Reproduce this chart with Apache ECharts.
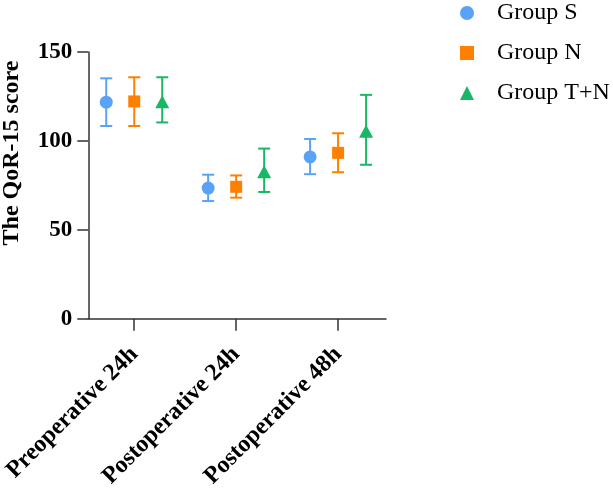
<!DOCTYPE html>
<html><head><meta charset="utf-8">
<script src="https://cdn.jsdelivr.net/npm/echarts@6/dist/echarts.min.js"></script>
<style>html,body{margin:0;padding:0;background:#fff}#c{width:613px;height:491px}</style>
</head><body><div id="c"></div>
<script>
const categories = ['Preoperative 24h', 'Postoperative 24h', 'Postoperative 48h'];
const yTicks = [0, 50, 100, 150];
const groupNames = ['Group S', 'Group N', 'Group T+N'];
const sMean = [121.8, 73.5, 91.0];
const sUpper = [135.2, 81.0, 101.1];
const sLower = [108.4, 66.2, 81.3];
const nMean = [122.2, 74.2, 93.3];
const nUpper = [135.8, 80.6, 104.3];
const nLower = [108.4, 68.1, 82.4];
const tMean = [122.0, 82.6, 105.4];
const tUpper = [135.8, 95.7, 125.9];
const tLower = [110.4, 71.3, 86.6];

const colors = ['#5aa2f6', '#ff8000', '#17b765'];
const symbols = ['circle', 'rect', 'triangle'];
const offsets = [-28, 0, 28];
const groups = [[sMean, sUpper, sLower], [nMean, nUpper, nLower], [tMean, tUpper, tLower]];
const serif = 'Liberation Serif';

const chart = echarts.init(document.getElementById('c'), null, {renderer: 'canvas'});
const series = [];
groups.forEach((g, k) => {
  const off = offsets[k];
  series.push({
    type: 'custom',
    name: groupNames[k] + ' err',
    data: categories.map((c, i) => [i, g[2][i], g[1][i]]),
    z: 2,
    silent: true,
    renderItem: (params, api) => {
      const lo = api.coord([api.value(0), api.value(1)]);
      const hi = api.coord([api.value(0), api.value(2)]);
      const x = lo[0] + off;
      const w = 6;
      const st = {stroke: colors[k], lineWidth: 2, fill: null};
      return {type: 'group', children: [
        {type: 'line', shape: {x1: x, y1: lo[1], x2: x, y2: hi[1]}, style: st},
        {type: 'line', shape: {x1: x - w, y1: lo[1], x2: x + w, y2: lo[1]}, style: st},
        {type: 'line', shape: {x1: x - w, y1: hi[1], x2: x + w, y2: hi[1]}, style: st}
      ]};
    }
  });
});
groups.forEach((g, k) => {
  series.push({
    type: 'scatter',
    name: groupNames[k],
    data: categories.map((c, i) => [i, g[0][i]]),
    symbol: symbols[k],
    symbolSize: k === 2 ? [14, 13] : (k === 1 ? 12 : 13),
    symbolOffset: [offsets[k], 0],
    itemStyle: {color: colors[k], opacity: 1},
    z: 3
  });
});

chart.setOption({
  animation: false,
  backgroundColor: '#fff',
  grid: {left: 88, right: 227, top: 52, bottom: 171, containLabel: false},
  legend: {
    orient: 'vertical', left: 455, top: -4,
    data: groupNames.map((n, k) => ({name: n, icon: symbols[k]})),
    itemWidth: 14, itemHeight: 14, itemGap: 16,
    textStyle: {fontFamily: serif, fontSize: 24, lineHeight: 20, color: '#000', padding: [0, 0, 0, 18]}
  },
  xAxis: {
    type: 'value', min: -0.451, max: 2.47,
    splitLine: {show: false},
    axisLine: {show: true, onZero: false, lineStyle: {color: '#333', width: 1.5}},
    axisTick: {show: true, customValues: [0, 1, 2], length: 12, lineStyle: {color: '#333', width: 1.5}},
    axisLabel: {
      customValues: [0, 1, 2], rotate: 45, margin: 32,
      formatter: v => categories[Math.round(v)] || '',
      fontFamily: serif, fontWeight: 'bold', fontSize: 24, color: '#000'
    }
  },
  yAxis: {
    type: 'value', min: 0, max: 150, interval: 50,
    splitLine: {show: false},
    axisLine: {show: true, onZero: false, lineStyle: {color: '#333', width: 1.5}},
    axisTick: {show: true, length: 11, lineStyle: {color: '#333', width: 1.5}},
    axisLabel: {
      margin: 16, formatter: v => (yTicks.indexOf(v) >= 0 ? String(v) : ''),
      fontFamily: serif, fontWeight: 'bold', fontSize: 23, color: '#000'
    }
  },
  graphic: [{
    type: 'text', x: 12, y: 153, rotation: Math.PI / 2,
    style: {text: 'The QoR-15 score', fontFamily: serif, fontWeight: 'bold', fontSize: 24,
      fill: '#000', align: 'center', verticalAlign: 'middle'}
  }],
  series: series
});
</script></body></html>
